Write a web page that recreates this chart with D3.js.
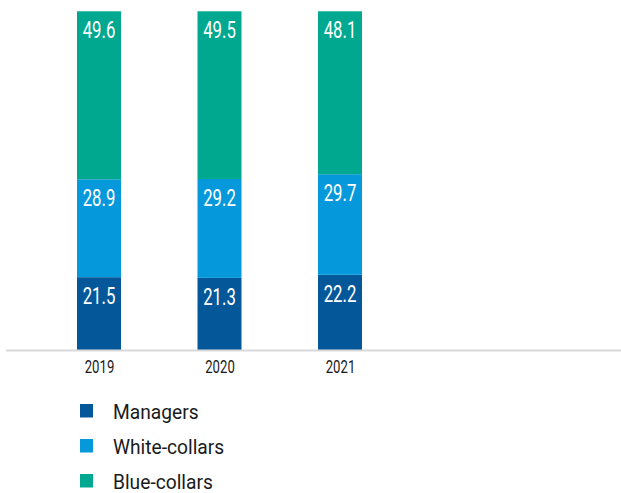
<!DOCTYPE html>
<html>
<head>
<meta charset="utf-8">
<script src="https://cdn.jsdelivr.net/npm/d3@7"></script>
<style>
  html, body { margin: 0; padding: 0; background: #fff; }
  svg { display: block; }
  text { font-family: Roboto, "Liberation Sans", sans-serif; }
</style>
</head>
<body>
<svg id="chart" width="621" height="493"></svg>
<script>
const years = ["2019", "2020", "2021"];
const seriesNames = ["Managers", "White-collars", "Blue-collars"];
const managers = [21.5, 21.3, 22.2];
const whiteCollars = [28.9, 29.2, 29.7];
const blueCollars = [49.6, 49.5, 48.1];
const colors = ["#04589a", "#0598da", "#00a88f"];

const svg = d3.select("#chart");
const W = 621, H = 493;
const axisY = 350;

const x = d3.scalePoint().domain(years).range([99, 340]);
const y = d3.scaleLinear().domain([0, 100]).range([axisY, 11.3]);
const barW = 44;

const rows = years.map((yr, i) => ({
  year: yr,
  Managers: managers[i],
  "White-collars": whiteCollars[i],
  "Blue-collars": blueCollars[i]
}));
const stack = d3.stack().keys(seriesNames)(rows);

const layers = svg.append("g").selectAll("g")
  .data(stack).join("g")
  .attr("fill", (d, i) => colors[i]);

layers.selectAll("rect")
  .data(d => d).join("rect")
  .attr("x", d => x(d.data.year) - barW / 2)
  .attr("width", barW)
  .attr("y", d => y(d[1]))
  .attr("height", d => y(d[0]) - y(d[1]));

layers.selectAll("text")
  .data(d => d).join("text")
  .attr("transform", d => `translate(${x(d.data.year)},${y(d[1]) + 27}) scale(0.7,1)`)
  .attr("text-anchor", "middle")
  .attr("fill", "#ffffff")
  .attr("font-size", 24)
  .text(d => (d[1] - d[0]).toFixed(1));

// axis line
svg.append("line")
  .attr("x1", 6).attr("x2", W)
  .attr("y1", axisY + 0.5).attr("y2", axisY + 0.5)
  .attr("stroke", "#d9d9d9").attr("stroke-width", 2);

// x axis labels
const xAxis = d3.axisBottom(x).tickSize(0).tickPadding(0);
const gx = svg.append("g").attr("transform", `translate(0,${axisY})`).call(xAxis);
gx.select(".domain").remove();
gx.selectAll("text")
  .attr("font-family", "Roboto, sans-serif")
  .attr("font-size", 18)
  .attr("fill", "#1a1a1a")
  .attr("dy", 0)
  .attr("y", 0)
  .attr("transform", "translate(0,23) scale(0.73,1)");

// legend
const legend = svg.append("g").selectAll("g")
  .data(seriesNames).join("g")
  .attr("transform", (d, i) => `translate(80,${404 + i * 35})`);
legend.append("rect")
  .attr("width", 13).attr("height", 13.5)
  .attr("fill", (d, i) => colors[i]);
legend.append("text")
  .attr("transform", "translate(33,14.5) scale(0.96,1)")
  .attr("font-size", 20)
  .attr("fill", "#1a1a1a")
  .text(d => d);
</script>
</body>
</html>
